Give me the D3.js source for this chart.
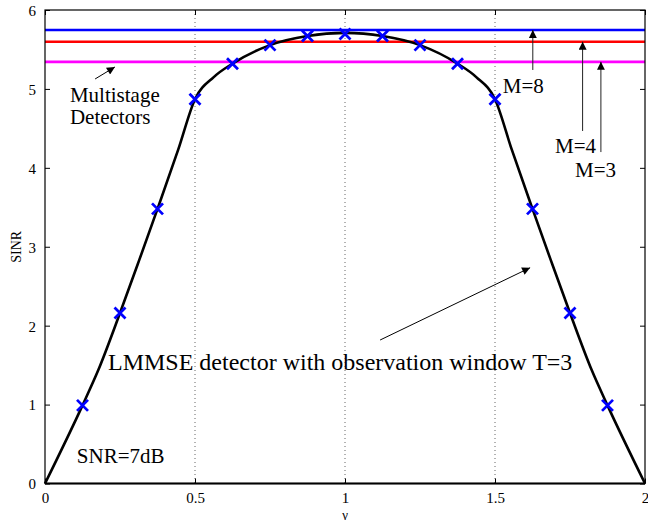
<!DOCTYPE html>
<html>
<head>
<meta charset="utf-8">
<script src="https://cdn.jsdelivr.net/npm/d3@7"></script>
<style>
  body { margin: 0; background: #fff; }
  svg { display: block; }
  text { font-family: "Liberation Serif", "Times New Roman", serif; }
</style>
</head>
<body>
<svg id="chart" width="648" height="520"></svg>
<script>
const gammaCurve = [0, 0.125, 0.178, 0.25, 0.314, 0.375, 0.444, 0.5, 0.5625, 0.625, 0.75, 0.875, 1,
                    1.125, 1.25, 1.375, 1.4375, 1.5, 1.556, 1.625, 1.686, 1.75, 1.822, 1.875, 2];
const sinrCurve = [0, 0.99, 1.44, 2.16, 2.83, 3.48, 4.23, 4.87, 5.15, 5.32, 5.555, 5.67, 5.71,
                   5.67, 5.555, 5.32, 5.15, 4.87, 4.23, 3.48, 2.83, 2.16, 1.44, 0.99, 0];

// the blue x markers
const gammaMarks = [0.125, 0.25, 0.375, 0.5, 0.625, 0.75, 0.875, 1, 1.125, 1.25, 1.375, 1.5, 1.625, 1.75, 1.875];
const sinrMarks = [0.99, 2.16, 3.48, 4.87, 5.32, 5.555, 5.67, 5.695, 5.67, 5.555, 5.32, 4.87, 3.48, 2.16, 0.99];

// multistage detector levels
const stageLabels = ['M=8', 'M=4', 'M=3'];
const stageSinr = [5.746, 5.598, 5.343];
const stageColors = ['#0000ff', '#ff0000', '#ff00ff'];

const xTicks = [0, 0.5, 1, 1.5, 2];
const xTickLabels = ['0', '0.5', '1', '1.5', '2'];
const yTicks = [0, 1, 2, 3, 4, 5, 6];
const gridX = [0.5, 1, 1.5];

const margin = { top: 10, right: 3, bottom: 36.5, left: 45 };
const width = 648, height = 520;
const serif = '"Liberation Serif", "Times New Roman", serif';

const svg = d3.select('#chart');

const x = d3.scaleLinear().domain([0, 2]).range([margin.left, width - margin.right]);
const y = d3.scaleLinear().domain([0, 6]).range([height - margin.bottom, margin.top]);

const defs = svg.append('defs');
defs.append('marker')
    .attr('id', 'head')
    .attr('markerUnits', 'userSpaceOnUse')
    .attr('viewBox', '0 0 10 10')
    .attr('refX', 10).attr('refY', 5)
    .attr('markerWidth', 10).attr('markerHeight', 8)
    .attr('orient', 'auto')
    .append('path')
    .attr('d', 'M0,0 L10,5 L0,10 z')
    .attr('fill', '#000');

// dotted grid
svg.append('g')
    .selectAll('line')
    .data(gridX)
    .enter()
    .append('line')
    .attr('x1', d => x(d)).attr('x2', d => x(d))
    .attr('y1', y(6)).attr('y2', y(0))
    .attr('stroke', '#666')
    .attr('stroke-width', 1)
    .attr('stroke-dasharray', '1,3');

// axes, ticks inside the box
const tickLen = 5;
svg.append('g')
    .attr('transform', `translate(0,${y(0)})`)
    .attr('font-family', serif)
    .call(d3.axisBottom(x).tickValues(xTicks).tickSizeInner(-tickLen).tickSizeOuter(0)
        .tickPadding(9).tickFormat((d, i) => xTickLabels[i]))
    .call(g => g.select('.domain').remove())
    .call(g => g.attr('font-family', serif))
    .selectAll('text')
    .style('font-size', '15px');

svg.append('g')
    .attr('transform', `translate(0,${y(6)})`)
    .call(d3.axisTop(x).tickValues(xTicks).tickSizeInner(-tickLen).tickSizeOuter(0).tickFormat(''))
    .call(g => g.select('.domain').remove());

svg.append('g')
    .attr('transform', `translate(${x(0)},0)`)
    .call(d3.axisLeft(y).tickValues(yTicks).tickSizeInner(-tickLen).tickSizeOuter(0)
        .tickPadding(9).tickFormat(d3.format('d')))
    .call(g => g.select('.domain').remove())
    .call(g => g.attr('font-family', serif))
    .selectAll('text')
    .attr('dy', '0.36em')
    .style('font-size', '15px');

svg.append('g')
    .attr('transform', `translate(${x(2)},0)`)
    .call(d3.axisRight(y).tickValues(yTicks).tickSizeInner(-tickLen).tickSizeOuter(0).tickFormat(''))
    .call(g => g.select('.domain').remove());

svg.selectAll('.tick line').attr('stroke', '#000');

// horizontal levels
svg.append('g')
    .selectAll('line')
    .data(stageSinr)
    .enter()
    .append('line')
    .attr('x1', x(0)).attr('x2', x(2))
    .attr('y1', d => y(d)).attr('y2', d => y(d))
    .attr('stroke', (d, i) => stageColors[i])
    .attr('stroke-width', 2.6);

// LMMSE curve
const curveData = gammaCurve.map((g, i) => ({ g, s: sinrCurve[i] }));
svg.append('path')
    .datum(curveData)
    .attr('fill', 'none')
    .attr('stroke', '#000')
    .attr('stroke-width', 2.6)
    .attr('d', d3.line().x(d => x(d.g)).y(d => y(d.s)).curve(d3.curveMonotoneX));

// x markers
const markData = gammaMarks.map((g, i) => ({ g, s: sinrMarks[i] }));
const ms = 5.5;
svg.append('g')
    .selectAll('path')
    .data(markData)
    .enter()
    .append('path')
    .attr('d', d => `M${x(d.g) - ms},${y(d.s) - ms}L${x(d.g) + ms},${y(d.s) + ms}M${x(d.g) - ms},${y(d.s) + ms}L${x(d.g) + ms},${y(d.s) - ms}`)
    .attr('stroke', '#0000ff')
    .attr('stroke-width', 2.8)
    .attr('fill', 'none');

// box
svg.append('rect')
    .attr('x', x(0)).attr('y', y(6))
    .attr('width', x(2) - x(0)).attr('height', y(0) - y(6))
    .attr('fill', 'none')
    .attr('stroke', '#000')
    .attr('stroke-width', 1.2);
svg.append('line')
    .attr('x1', x(0)).attr('x2', x(2))
    .attr('y1', y(0)).attr('y2', y(0))
    .attr('stroke', '#000')
    .attr('stroke-width', 2);

// annotations
function arrow(x1, y1, x2, y2, color) {
    svg.append('line')
        .attr('x1', x(x1)).attr('y1', y(y1))
        .attr('x2', x(x2)).attr('y2', y(y2))
        .attr('stroke', color || '#000')
        .attr('stroke-width', 1)
        .attr('marker-end', 'url(#head)');
}
function label(tx, ty, str, size) {
    return svg.append('text')
        .attr('x', x(tx)).attr('y', y(ty))
        .attr('font-family', serif)
        .style('font-size', (size || 21) + 'px')
        .text(str);
}

const multi = svg.append('text')
    .attr('x', x(0.083)).attr('y', y(4.838))
    .attr('font-family', serif)
    .style('font-size', '21px');
multi.append('tspan').text('Multistage');
multi.append('tspan').attr('x', x(0.083)).attr('dy', 22.5).text('Detectors');
arrow(0.167, 5.126, 0.233, 5.278);

label(1.526, 4.944, stageLabels[0]);
arrow(1.626, 5.24, 1.626, stageSinr[0], '#222');
label(1.70, 4.184, stageLabels[1]);
arrow(1.792, 4.467, 1.792, stageSinr[1], '#222');
label(1.767, 3.888, stageLabels[2]);
arrow(1.853, 4.2, 1.853, stageSinr[2], '#222');

label(0.21, 1.438, 'LMMSE detector with observation window T=3', 24);
arrow(1.117, 1.818, 1.617, 2.734);

label(0.106, 0.256, 'SNR=7dB', 21);

// axis titles
svg.append('text')
    .attr('transform', `translate(21,${(y(0) + y(6)) / 2}) rotate(-90)`)
    .attr('text-anchor', 'middle')
    .attr('font-family', serif)
    .style('font-size', '14px')
    .text('SINR');

svg.append('text')
    .attr('x', x(1)).attr('y', 518.5)
    .attr('text-anchor', 'middle')
    .attr('font-family', serif)
    .style('font-size', '13px')
    .text('γ');
</script>
</body>
</html>
